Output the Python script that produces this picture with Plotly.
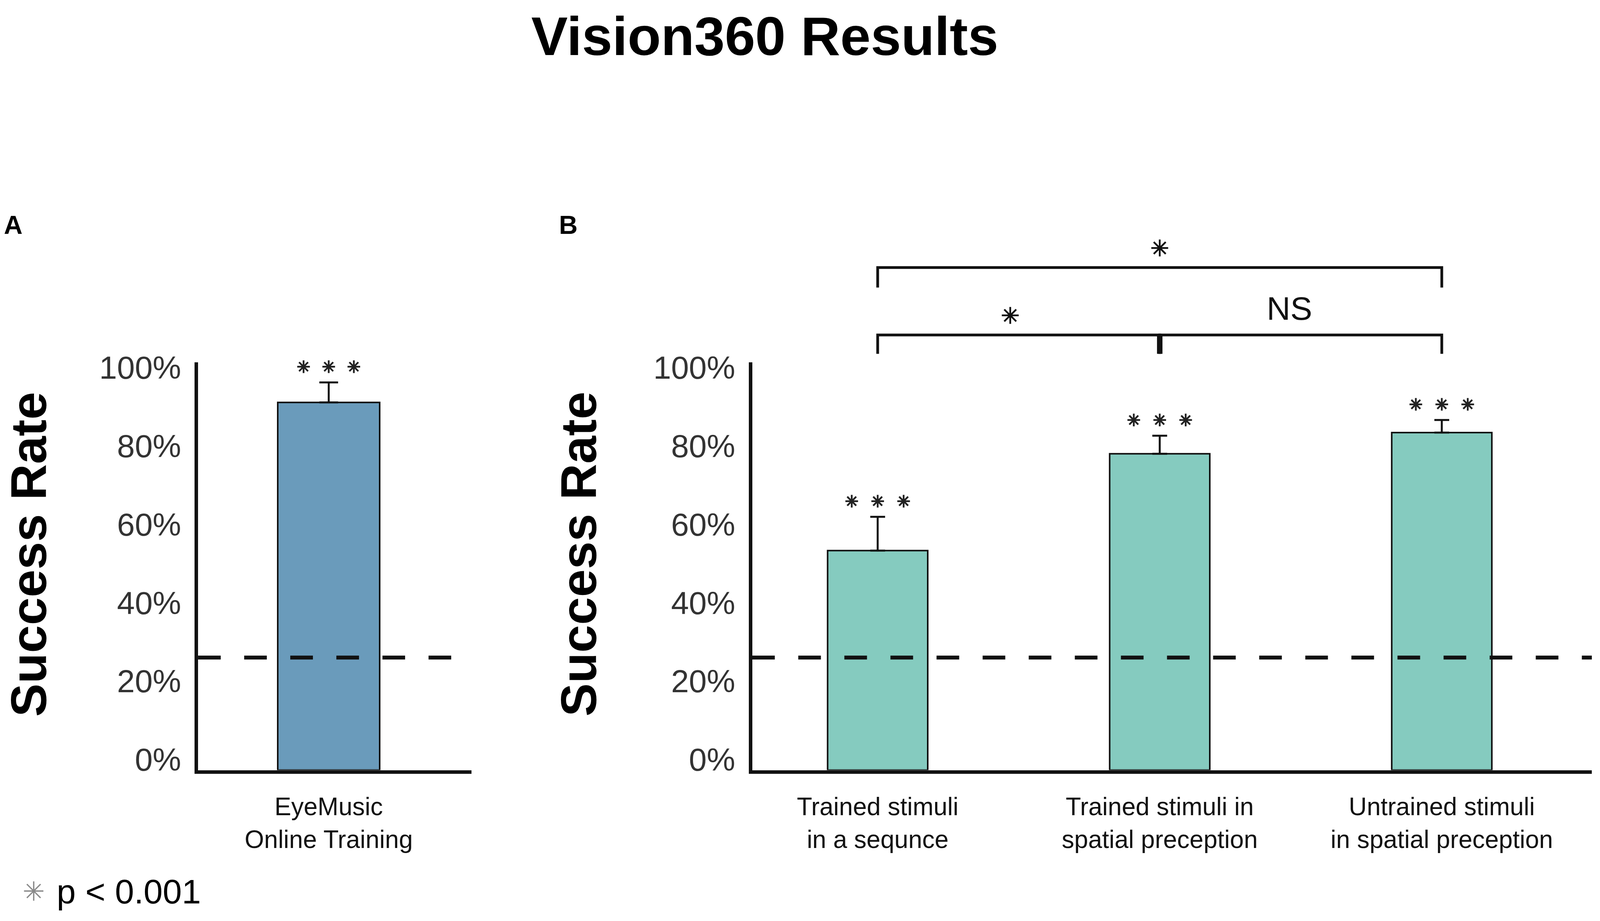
import plotly.graph_objects as go

# ---------------- data ----------------
CATS_A = ["EyeMusic<br>Online Training"]
VALS_A = [93.8]
ERR_A = [5.1]

CATS_B = ["Trained stimuli<br>in a sequnce",
          "Trained stimuli in<br>spatial preception",
          "Untrained stimuli<br>in spatial preception"]
VALS_B = [56.0, 80.7, 86.1]
ERR_B = [8.6, 4.6, 3.2]

CHANCE = 28.7
Y_TICKS = [0, 20, 40, 60, 80, 100]
Y_TICK_TEXT = ["0%", "20%", "40%", "60%", "80%", "100%"]

# comparisons in panel B
BR_LEFT = [0, 1, 0]
BR_RIGHT = [1, 2, 2]
BR_LEVEL = [111.0, 111.0, 128.2]
BR_LEG = [106.2, 106.2, 123.1]
BR_LABEL = ["*", "NS", "*"]

# ---------------- style ----------------
FONT = "Liberation Sans, Arial, sans-serif"
INK = "#111111"
COL_A = "#6a9bbb"
COL_B = "#85cbbf"
STAR_SPREAD = 0.092
STAR_GAP = 4.0

fig = go.Figure()
fig.add_trace(go.Bar(
    x=list(range(len(VALS_A))), y=VALS_A, width=0.373,
    marker=dict(color=COL_A, line=dict(color=INK, width=4)),
    error_y=dict(type="data", array=ERR_A, arrayminus=[0] * len(ERR_A),
                 symmetric=False, color=INK, thickness=5, width=24),
    xaxis="x", yaxis="y", showlegend=False, hoverinfo="skip"))
fig.add_trace(go.Bar(
    x=list(range(len(VALS_B))), y=VALS_B, width=0.355,
    marker=dict(color=COL_B, line=dict(color=INK, width=4)),
    error_y=dict(type="data", array=ERR_B, arrayminus=[0] * len(ERR_B),
                 symmetric=False, color=INK, thickness=5, width=19),
    xaxis="x2", yaxis="y2", showlegend=False, hoverinfo="skip"))


def triple_stars(vals, errs):
    xs, ys = [], []
    for i, (v, e) in enumerate(zip(vals, errs)):
        for k in (-1, 0, 1):
            xs.append(i + k * STAR_SPREAD)
            ys.append(v + e + STAR_GAP)
    return xs, ys


star_marker = dict(symbol="asterisk", size=27, color="#222",
                   line=dict(color="#222", width=4.5))
xa, ya = triple_stars(VALS_A, ERR_A)
fig.add_trace(go.Scatter(x=xa, y=ya, mode="markers", marker=star_marker,
                         cliponaxis=False, xaxis="x", yaxis="y",
                         showlegend=False, hoverinfo="skip"))
xb, yb = triple_stars(VALS_B, ERR_B)
fig.add_trace(go.Scatter(x=xb, y=yb, mode="markers", marker=star_marker,
                         cliponaxis=False, xaxis="x2", yaxis="y2",
                         showlegend=False, hoverinfo="skip"))

sx, sy, tx, ty, tt = [], [], [], [], []
for l, r, lev, lab in zip(BR_LEFT, BR_RIGHT, BR_LEVEL, BR_LABEL):
    cx = (l + r) / 2
    if lab == "*":
        sx.append(cx - 0.03 * (r - l == 1))
        sy.append(lev + 5.0)
    else:
        tx.append(cx - 0.04)
        ty.append(lev + 6.0)
        tt.append(lab)
fig.add_trace(go.Scatter(x=sx, y=sy, mode="markers",
                         marker=dict(symbol="asterisk", size=36, color="#111",
                                     line=dict(color="#111", width=4.5)),
                         cliponaxis=False, xaxis="x2", yaxis="y3",
                         showlegend=False, hoverinfo="skip"))
fig.add_trace(go.Scatter(x=tx, y=ty, mode="text", text=tt,
                         textfont=dict(family=FONT, size=84, color="#111"),
                         cliponaxis=False, xaxis="x2", yaxis="y3",
                         showlegend=False, hoverinfo="skip"))

shapes = []
for xr, yr in (("x domain", "y"), ("x2 domain", "y2")):
    shapes.append(dict(type="line", xref=xr, yref=yr, x0=0, x1=1,
                       y0=CHANCE, y1=CHANCE,
                       line=dict(color=INK, width=10, dash="58px,60px")))
for l, r, lev, leg in zip(BR_LEFT, BR_RIGHT, BR_LEVEL, BR_LEG):
    shapes.append(dict(type="path", xref="x2", yref="y3",
                       path=f"M {l},{leg} L {l},{lev} L {r},{lev} L {r},{leg}",
                       line=dict(color=INK, width=7)))
for r, l2, lev, leg in zip(BR_RIGHT[:-1], BR_LEFT[1:], BR_LEVEL, BR_LEG):
    if r == l2:
        shapes.append(dict(type="line", xref="x2", yref="y3",
                           x0=r, x1=r, y0=lev, y1=leg,
                           line=dict(color=INK, width=14)))

Y_DOM = [0.1592, 0.6117]
Y3_DOM = [0.1592, 0.7465]

yaxis_common = dict(range=[0, 104], tickvals=Y_TICKS, ticktext=Y_TICK_TEXT,
                    showline=True, linewidth=9, linecolor=INK,
                    showgrid=False, zeroline=False, ticks="",
                    tickfont=dict(family=FONT, size=82, color="#333333"),
                    ticklabelstandoff=18, ticklabelshift=-27, fixedrange=True)
xaxis_common = dict(showline=True, linewidth=9, linecolor=INK,
                    showgrid=False, zeroline=False, ticks="",
                    tickfont=dict(family=FONT, size=64, color="#111"),
                    ticklabelstandoff=30, fixedrange=True)


def note(text, x, y, size, color="#000", family=FONT, angle=0,
         xanchor="center"):
    return dict(text=text, x=x, y=y, xref="paper", yref="paper",
                xanchor=xanchor, yanchor="middle", textangle=angle,
                showarrow=False,
                font=dict(family=family, size=size, color=color))


fig.update_layout(
    width=4096, height=2359,
    margin=dict(l=0, r=0, t=0, b=0),
    paper_bgcolor="white", plot_bgcolor="rgba(0,0,0,0)",
    bargap=0,
    title=dict(text="<b>Vision360 Results</b>", x=0.478, y=0.961,
               xanchor="center", yanchor="middle",
               font=dict(family=FONT, size=140, color="#000")),
    xaxis=dict(domain=[0.1238, 0.2946], range=[-0.478, 0.522],
               tickvals=list(range(len(CATS_A))), ticktext=CATS_A,
               anchor="y", **xaxis_common),
    yaxis=dict(domain=Y_DOM, anchor="x", **yaxis_common),
    xaxis2=dict(domain=[0.4701, 0.9949], range=[-0.445, 2.532],
                tickvals=list(range(len(CATS_B))), ticktext=CATS_B,
                anchor="y2", **xaxis_common),
    yaxis2=dict(domain=Y_DOM, anchor="x2", **yaxis_common),
    yaxis3=dict(domain=Y3_DOM, anchor="x2", range=[0, 135], visible=False,
                fixedrange=True),
    shapes=shapes,
    annotations=[
        note("<b>A</b>", 0.0083, 0.7643, 66),
        note("<b>B</b>", 0.3552, 0.7643, 66),
        note("<b>Success Rate</b>", 0.0178, 0.399, 128, angle=-90),
        note("<b>Success Rate</b>", 0.3616, 0.399, 128, angle=-90),
        note("✳", 0.0211, 0.0245, 68, color="#8a8a8a", family="DejaVu Sans"),
        note("p < 0.001", 0.035, 0.0245, 88, xanchor="left"),
    ],
)

# fill the browser viewport exactly (no body margin, no scrollbars)
post = """
document.documentElement.style.margin = '0';
document.body.style.margin = '0';
document.documentElement.style.overflow = 'hidden';
document.body.style.overflow = 'hidden';
var gd = document.getElementById('{plot_id}');
Plotly.relayout(gd, {width: window.innerWidth, height: window.innerHeight});
"""
fig.write_html("out.html", post_script=post,
               config={"displayModeBar": False, "staticPlot": True})
